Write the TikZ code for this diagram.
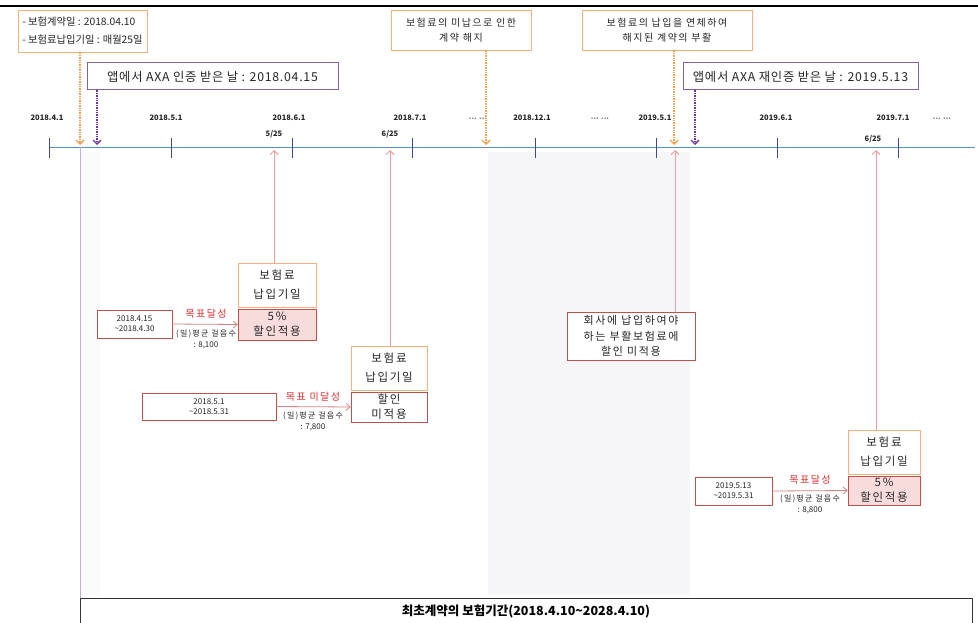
\documentclass[tikz,border=0pt]{standalone}
\usepackage{fontspec}
\setmainfont{Noto Sans CJK KR}
\newfontfamily\krs[LetterSpace=15]{Noto Sans CJK KR}
\newfontfamily\krm[LetterSpace=6]{Noto Sans CJK KR}
\usetikzlibrary{arrows.meta}
\definecolor{orbd}{HTML}{F4B183}
\definecolor{orarr}{HTML}{F5A050}
\definecolor{purbd}{HTML}{8064A2}
\definecolor{purarr}{HTML}{7030A0}
\definecolor{tl}{HTML}{5B8FC7}
\definecolor{tick}{HTML}{3D4D8A}
\definecolor{pinkln}{HTML}{E8A0A0}
\definecolor{redbd}{HTML}{C0504D}
\definecolor{pinkfill}{HTML}{F8DCDC}
\definecolor{redtxt}{HTML}{E03030}
\definecolor{greyzone}{HTML}{F6F6F8}
\tikzset{
  orbox/.style={draw=orbd, fill=white, line width=0.8pt, inner sep=2pt, align=center, text=black!85},
  purbox/.style={draw=purbd, fill=white, line width=1pt, inner sep=2pt, align=center, text=black!85, font=\krm\fontsize{12.3}{13}\selectfont},
  redbox/.style={draw=redbd, line width=0.7pt, inner sep=1pt, align=center, text=black!85},
  ordot/.style={draw=orarr, densely dotted, line width=1.4pt, -{Straight Barb[length=4pt,width=8pt,line width=1.3pt]}},
  purdot/.style={draw=purarr, densely dotted, line width=1.4pt, -{Straight Barb[length=4pt,width=8pt,line width=1.3pt]}},
  pinkarr/.style={draw=pinkln, line width=0.8pt, -{Straight Barb[length=4pt,width=8pt,line width=0.9pt]}},
  redarr/.style={draw=redbd!70, line width=0.8pt, -{Straight Barb[length=4pt,width=7pt,line width=0.8pt]}},
  ticklbl/.style={font=\fontsize{7.5}{8}\selectfont\bfseries, text=black!85},
  small/.style={font=\krs\fontsize{8}{9}\selectfont, text=black!85, inner sep=0pt},
  smallnum/.style={font=\fontsize{8}{9}\selectfont, text=black!85, inner sep=0pt},
  goal/.style={font=\krs\fontsize{10}{11}\selectfont, text=redtxt, inner sep=0pt},
  datebox/.style={redbox, fill=white, font=\fontsize{8}{10}\selectfont}
}
\begin{document}
\begin{tikzpicture}[x=1pt,y=-1pt]
\useasboundingbox (0,0) rectangle (978,623);
\fill[white] (0,0) rectangle (978,623);
% shaded areas
\fill[greyzone] (488,152) rectangle (690,595);
\fill[greyzone!50] (81,152) rectangle (100,595);
% top line
\draw[black, line width=1.2pt] (0,6) -- (978,6);

% timeline
\coordinate (tlL) at (49,147);
\coordinate (tlR) at (975,147);
\draw[tl, line width=0.9pt] (tlL) -- (tlR);
\foreach \x in {49,171,292,412,535,656,777,898}{
  \draw[tick, line width=0.8pt] (\x,138) -- (\x,158);
}
\node[ticklbl] (l1) at (47,118) {2018.4.1};
\node[ticklbl] (l2) at (166,118) {2018.5.1};
\node[ticklbl] (l3) at (289,118) {2018.6.1};
\node[ticklbl] (l4) at (410,118) {2018.7.1};
\node[ticklbl] (l5) at (532,118) {2018.12.1};
\node[ticklbl] (l6) at (655,118) {2019.5.1};
\node[ticklbl] (l7) at (776,118) {2019.6.1};
\node[ticklbl] (l8) at (893,118) {2019.7.1};
\node[ticklbl, text=black!50] (d1) at (478,119) {... ...};
\node[ticklbl, text=black!50] (d2) at (600,119) {... ...};
\node[ticklbl, text=black!50] (d3) at (942,119) {... ...};
\node[ticklbl] (m1) at (274,134) {5/25};
\node[ticklbl] (m2) at (390,134) {6/25};
\node[ticklbl] (m3) at (873,139) {6/25};

% start vertical line
\coordinate (v0) at (80,147);
\coordinate (v1) at (80,598);
\draw[purbd!50, line width=0.8pt] (v0) -- (v1);

% top callouts
\node[orbox, minimum width=129pt, minimum height=42pt, align=left, font=\fontsize{10.3}{18}\selectfont] (n1) at (82.5,31)
  {- 보험계약일 : 2018.04.10\\- 보험료납입기일 : 매월25일};
\coordinate (a1) at (80,145);
\draw[ordot] (n1.south -| a1) -- (a1);

\node[purbox, minimum width=251pt, minimum height=27pt] (p1) at (212.5,76.5) {앱에서 AXA 인증 받은 날 : 2018.04.15};
\coordinate (a2) at (97,145);
\draw[purdot] (p1.south -| a2) -- (a2);

\node[orbox, minimum width=140pt, minimum height=40pt, font=\krs\fontsize{10}{15}\selectfont] (c1) at (461,30) {보험료의 미납으로 인한\\계약 해지};
\coordinate (a3) at (486,145);
\draw[ordot] (c1.south -| a3) -- (a3);

\node[orbox, minimum width=170pt, minimum height=40pt, font=\krs\fontsize{10}{15}\selectfont] (c2) at (667,30) {보험료의 납입을 연체하여\\해지된 계약의 부활};
\coordinate (a4) at (674,145);
\draw[ordot] (c2.south -| a4) -- (a4);

\node[purbox, minimum width=235pt, minimum height=27pt] (p2) at (800.5,76.5) {앱에서 AXA 재인증 받은 날 : 2019.5.13};
\coordinate (a5) at (695,145);
\draw[purdot] (p2.south -| a5) -- (a5);

% payment-date boxes
\node[orbox, minimum width=78pt, minimum height=44pt, font=\krs\fontsize{11.5}{19}\selectfont] (b1) at (277,285) {보험료\\납입기일};
\node[redbox, fill=pinkfill, minimum width=78pt, minimum height=31pt, font=\krs\fontsize{11.5}{15}\selectfont] (r1) at (277,324.5) {5\%\\할인적용};
\coordinate (u1) at (274,150);
\draw[pinkarr] (b1.north -| u1) -- (u1);

\node[orbox, minimum width=76pt, minimum height=44pt, font=\krs\fontsize{11.5}{19}\selectfont] (b2) at (389,368) {보험료\\납입기일};
\node[redbox, fill=white, minimum width=76pt, minimum height=30pt, font=\krs\fontsize{11.5}{15}\selectfont] (r2) at (389,407) {할인\\미적용};
\coordinate (u2) at (390,150);
\draw[pinkarr] (b2.north -| u2) -- (u2);

\node[redbox, fill=white, minimum width=128pt, minimum height=48pt, font=\krs\fontsize{11}{15.5}\selectfont] (rv) at (631,336) {회사에 납입하여야\\하는 부활보험료에\\할인 미적용};
\coordinate (u3) at (675,150);
\draw[pinkarr] (rv.north -| u3) -- (u3);

\node[orbox, minimum width=72pt, minimum height=44pt, font=\krs\fontsize{11.5}{19}\selectfont] (b3) at (884,452) {보험료\\납입기일};
\node[redbox, fill=pinkfill, minimum width=72pt, minimum height=29pt, font=\krs\fontsize{11.5}{15}\selectfont] (r3) at (884,490.5) {5\%\\할인적용};
\coordinate (u4) at (876,150);
\draw[pinkarr] (b3.north -| u4) -- (u4);

% period boxes
\node[datebox, minimum width=75pt, minimum height=28pt] (e1) at (134.5,324) {2018.4.15\\\textasciitilde 2018.4.30};
\node[datebox, minimum width=134pt, minimum height=27pt] (e2) at (209,406.5) {2018.5.1\\\textasciitilde 2018.5.31};
\node[datebox, minimum width=77pt, minimum height=28pt] (e3) at (733.5,491) {2019.5.13\\\textasciitilde 2019.5.31};

\draw[redarr] (e1.east) -- (r1.west);
\draw[redarr] (e2.east) -- (r2.west);
\draw[redarr] (e3.east) -- (r3.west);

\node[goal] (g1) at (206,314) {목표달성};
\node[small] (s1) at (206,334) {(일)평균 걸음수};
\node[smallnum] (t1) at (206,345) {: 8,100};
\node[goal] (g2) at (313,397) {목표 미달성};
\node[small] (s2) at (313,416) {(일)평균 걸음수};
\node[smallnum] (t2) at (313,427) {: 7,800};
\node[goal] (g3) at (810,480) {목표달성};
\node[small] (s3) at (810,499) {(일)평균 걸음수};
\node[smallnum] (t3) at (810,510) {: 8,800};

% bottom box
\node[draw=black!80, line width=0.7pt, fill=white, minimum width=892pt, minimum height=25pt, font=\fontsize{12.5}{14}\selectfont\bfseries] (bt) at (526,611) {최초계약의 보험기간(2018.4.10\textasciitilde 2028.4.10)};
\end{tikzpicture}
\end{document}
